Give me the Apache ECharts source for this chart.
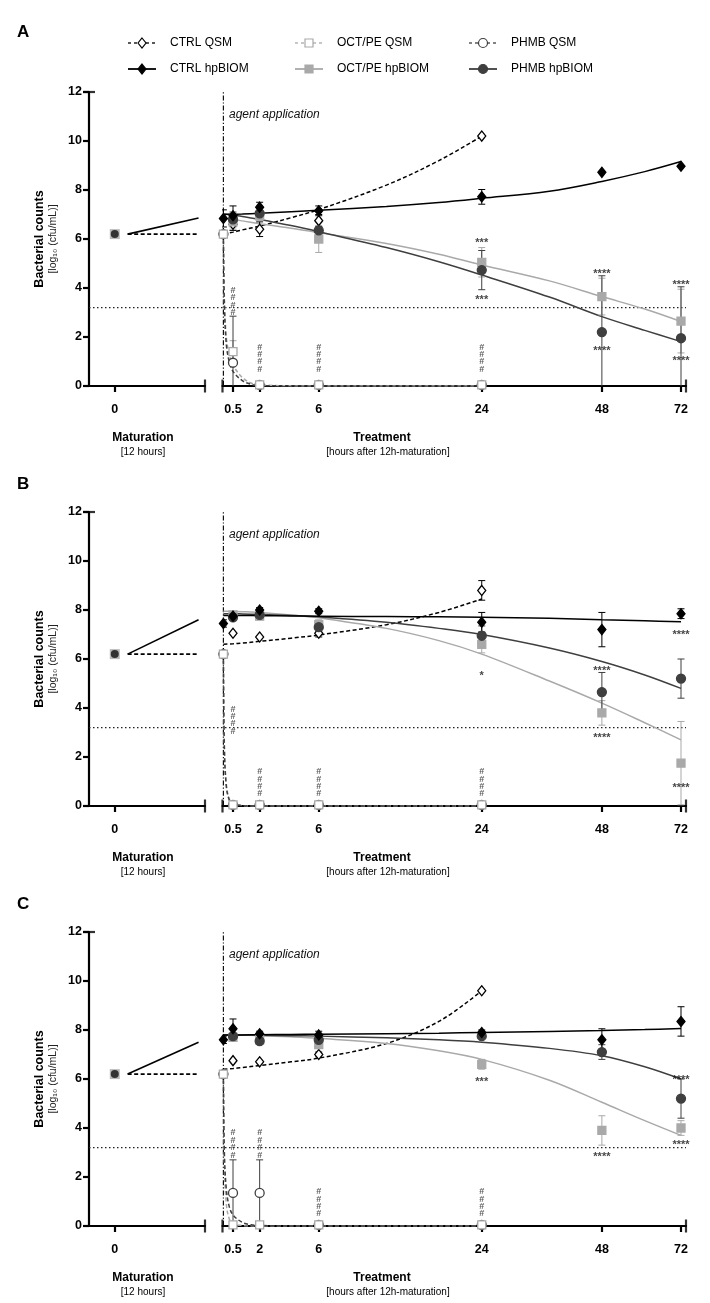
<!DOCTYPE html>
<html><head><meta charset="utf-8">
<script src="https://cdn.jsdelivr.net/npm/echarts@6/dist/echarts.min.js"></script>
<style>html,body{margin:0;padding:0;background:#fff}#c{width:710px;height:1303px}</style>
</head><body><div id="c"></div><script>
// ---------------- DATA ----------------
const hours = [0, 0.5, 2, 6, 24, 48, 72];
const xTickHours = [0.5, 2, 6, 24, 48, 72];
const yTicks = [0, 2, 4, 6, 8, 10, 12];
const detectionLimit = 3.2;
const maturationValue = 6.2;
const curveHours = [0, 0.5, 1, 2, 4, 6, 12, 18, 24, 36, 48, 60, 72];
const dropHours = [0, 0.05, 0.15, 0.3, 0.5, 1, 1.5, 2, 6, 24];
const panelLabels = ['A', 'B', 'C'];
const seriesNames = ['CTRL QSM', 'OCT/PE QSM', 'PHMB QSM', 'CTRL hpBIOM', 'OCT/PE hpBIOM', 'PHMB hpBIOM'];

// Panel A
const A_ctrlQsm = [6.2, 6.6, 6.4, 6.75, 10.2, null, null];
const A_ctrlQsmErr = [0, 0.25, 0.3, 0.25, 0, 0, 0];
const A_ctrlHp = [6.84, 6.95, 7.3, 7.15, 7.72, 8.72, 8.97];
const A_ctrlHpErr = [0.35, 0.4, 0.2, 0.2, 0.3, 0, 0];
const A_octQsm = [6.2, 1.4, 0.05, 0.05, 0.05, null, null];
const A_octQsmErr = [0, 0.45, 0, 0, 0, 0, 0];
const A_octHp = [null, 6.7, 6.95, 6.0, 5.05, 3.65, 2.65];
const A_octHpErr = [0, 0.3, 0.2, 0.55, 0.6, 0.75, 1.3];
const A_phmbQsm = [6.2, 0.95, 0.05, 0.05, 0.05, null, null];
const A_phmbQsmErr = [0, 1.9, 0, 0, 0, 0, 0];
const A_phmbHp = [null, 6.8, 7.05, 6.35, 4.73, 2.2, 1.95];
const A_phmbHpErr = [0, 0.3, 0.2, 0.4, 0.8, 2.3, 2.1];
const A_ctrlQsmFit = [6.2, 6.28, 6.37, 6.53, 6.87, 7.2, 8.2, 9.2, 10.2, null, null, null, null];
const A_ctrlHpFit = [7.0, 7.01, 7.02, 7.05, 7.11, 7.17, 7.33, 7.49, 7.66, 7.95, 8.35, 8.75, 9.16];
const A_octHpFit = [6.85, 6.8, 6.74, 6.62, 6.44, 6.26, 5.82, 5.38, 4.94, 4.29, 3.65, 3.14, 2.63];
const A_phmbHpFit = [7.02, 6.98, 6.92, 6.8, 6.55, 6.3, 5.65, 5.07, 4.53, 3.63, 2.83, 2.27, 1.81];
const A_octQsmFit = [6.2, 3.6, 2.0, 1.3, 0.85, 0.35, 0.12, 0.04, 0, 0];
const A_phmbQsmFit = [6.2, 3.3, 1.7, 1.0, 0.6, 0.22, 0.07, 0.02, 0, 0];
const A_matHpEnd = 6.86;
const A_hashes = [[0.5, 3.45], [2, 1.13], [6, 1.13], [24, 1.13]];
const A_stars = [[24, 5.93, '***'], [24, 3.6, '***'], [48, 4.65, '****'], [48, 1.5, '****'], [72, 4.2, '****'], [72, 1.1, '****']];

// Panel B
const B_ctrlQsm = [6.2, 7.05, 6.9, 7.05, 8.8, null, null];
const B_ctrlQsmErr = [0, 0, 0, 0.15, 0.4, 0, 0];
const B_ctrlHp = [7.45, 7.75, 8.0, 7.95, 7.5, 7.2, 7.85];
const B_ctrlHpErr = [0.15, 0.1, 0.1, 0.1, 0.4, 0.7, 0.2];
const B_octQsm = [6.2, 0.05, 0.05, 0.05, 0.05, null, null];
const B_octQsmErr = [0, 0, 0, 0, 0, 0, 0];
const B_octHp = [null, 7.8, 7.75, 7.4, 6.6, 3.8, 1.75];
const B_octHpErr = [0, 0.1, 0.15, 0.2, 0.35, 0.5, 1.7];
const B_phmbQsm = [6.2, 0.05, 0.05, 0.05, 0.05, null, null];
const B_phmbQsmErr = [0, 0, 0, 0, 0, 0, 0];
const B_phmbHp = [null, 7.7, 7.8, 7.3, 6.95, 4.65, 5.2];
const B_phmbHpErr = [0, 0.1, 0.1, 0.2, 0.4, 0.8, 0.8];
const B_ctrlQsmFit = [6.6, 6.62, 6.65, 6.72, 6.85, 6.98, 7.4, 7.9, 8.45, null, null, null, null];
const B_ctrlHpFit = [7.78, 7.78, 7.78, 7.77, 7.76, 7.75, 7.73, 7.72, 7.7, 7.66, 7.6, 7.56, 7.52];
const B_octHpFit = [7.95, 7.94, 7.93, 7.9, 7.8, 7.68, 7.25, 6.75, 6.2, 5.1, 4.2, 3.4, 2.7];
const B_phmbHpFit = [7.85, 7.85, 7.84, 7.82, 7.78, 7.72, 7.5, 7.25, 7.0, 6.45, 5.9, 5.35, 4.8];
const B_octQsmFit = [6.2, 2.5, 0.9, 0.3, 0.1, 0.02, 0, 0, 0, 0];
const B_phmbQsmFit = [6.2, 2.3, 0.8, 0.25, 0.08, 0.02, 0, 0, 0, 0];
const B_matHpEnd = 7.6;
const B_hashes = [[0.5, 3.5], [2, 0.95], [6, 0.95], [24, 0.95]];
const B_stars = [[24, 5.4, '*'], [48, 5.6, '****'], [48, 2.85, '****'], [72, 7.05, '****'], [72, 0.8, '****']];

// Panel C
const C_ctrlQsm = [6.2, 6.75, 6.7, 7.0, 9.6, null, null];
const C_ctrlQsmErr = [0, 0, 0, 0.1, 0, 0, 0];
const C_ctrlHp = [7.6, 8.05, 7.85, 7.8, 7.9, 7.6, 8.35];
const C_ctrlHpErr = [0.15, 0.4, 0.1, 0.15, 0.1, 0.45, 0.6];
const C_octQsm = [6.2, 0.05, 0.05, 0.05, 0.05, null, null];
const C_octQsmErr = [0, 0, 0, 0, 0, 0, 0];
const C_octHp = [null, 7.7, 7.6, 7.4, 6.6, 3.9, 4.0];
const C_octHpErr = [0, 0.1, 0.1, 0.15, 0.2, 0.6, 0.3];
const C_phmbQsm = [6.2, 1.35, 1.35, 0.05, 0.05, null, null];
const C_phmbQsmErr = [0, 1.35, 1.35, 0, 0, 0, 0];
const C_phmbHp = [null, 7.75, 7.55, 7.6, 7.75, 7.1, 5.2];
const C_phmbHpErr = [0, 0.1, 0.1, 0.1, 0.1, 0.3, 0.8];
const C_ctrlQsmFit = [6.4, 6.43, 6.47, 6.55, 6.7, 6.85, 7.45, 8.35, 9.6, null, null, null, null];
const C_ctrlHpFit = [7.8, 7.8, 7.8, 7.81, 7.82, 7.83, 7.85, 7.87, 7.9, 7.94, 7.98, 8.02, 8.06];
const C_octHpFit = [7.8, 7.8, 7.79, 7.77, 7.72, 7.66, 7.45, 7.15, 6.8, 5.95, 5.05, 4.3, 3.7];
const C_phmbHpFit = [7.8, 7.8, 7.8, 7.79, 7.77, 7.75, 7.68, 7.6, 7.5, 7.25, 6.95, 6.5, 6.0];
const C_octQsmFit = [6.2, 2.5, 0.9, 0.3, 0.1, 0.02, 0, 0, 0, 0];
const C_phmbQsmFit = [6.2, 3.0, 1.5, 0.8, 0.45, 0.15, 0.05, 0.02, 0, 0];
const C_matHpEnd = 7.5;
const C_hashes = [[0.5, 3.35], [2, 3.35], [6, 0.95], [24, 0.95]];
const C_stars = [[24, 5.95, '***'], [48, 2.9, '****'], [72, 6.05, '****'], [72, 3.4, '****']];

// ---------------- STYLE / LAYOUT ----------------
const FONT = 'Liberation Sans, Arial, Helvetica, sans-serif';
const COL = { ctrl: '#000000', oct: '#a9a9a9', phmb: '#3f3f3f' };
const PANEL_DY = 420;
const PLOT_TOP = 92, PLOT_H = 294, YAX_X = 89;
const MAT_RIGHT = 205, TRT_LEFT = 222.5, TRT_RIGHT = 686;
const PX05 = 233, PX72 = 681;
const tx = h => Math.log(h + 12);
const kx = (PX72 - PX05) / (tx(72) - tx(0.5));
const trtMin = tx(0.5) - (PX05 - TRT_LEFT) / kx;
const trtMax = tx(72) + (TRT_RIGHT - PX72) / kx;
const MAT_MIN = -1, MAT_MAX = 3.5;
const labelTop = [24, 476, 896];

const panels = [
  { ctrlQsm: A_ctrlQsm, ctrlQsmErr: A_ctrlQsmErr, ctrlHp: A_ctrlHp, ctrlHpErr: A_ctrlHpErr, octQsm: A_octQsm, octQsmErr: A_octQsmErr, octHp: A_octHp, octHpErr: A_octHpErr, phmbQsm: A_phmbQsm, phmbQsmErr: A_phmbQsmErr, phmbHp: A_phmbHp, phmbHpErr: A_phmbHpErr,
    ctrlQsmFit: A_ctrlQsmFit, ctrlHpFit: A_ctrlHpFit, octHpFit: A_octHpFit, phmbHpFit: A_phmbHpFit, octQsmFit: A_octQsmFit, phmbQsmFit: A_phmbQsmFit, matHpEnd: A_matHpEnd, hashes: A_hashes, stars: A_stars },
  { ctrlQsm: B_ctrlQsm, ctrlQsmErr: B_ctrlQsmErr, ctrlHp: B_ctrlHp, ctrlHpErr: B_ctrlHpErr, octQsm: B_octQsm, octQsmErr: B_octQsmErr, octHp: B_octHp, octHpErr: B_octHpErr, phmbQsm: B_phmbQsm, phmbQsmErr: B_phmbQsmErr, phmbHp: B_phmbHp, phmbHpErr: B_phmbHpErr,
    ctrlQsmFit: B_ctrlQsmFit, ctrlHpFit: B_ctrlHpFit, octHpFit: B_octHpFit, phmbHpFit: B_phmbHpFit, octQsmFit: B_octQsmFit, phmbQsmFit: B_phmbQsmFit, matHpEnd: B_matHpEnd, hashes: B_hashes, stars: B_stars },
  { ctrlQsm: C_ctrlQsm, ctrlQsmErr: C_ctrlQsmErr, ctrlHp: C_ctrlHp, ctrlHpErr: C_ctrlHpErr, octQsm: C_octQsm, octQsmErr: C_octQsmErr, octHp: C_octHp, octHpErr: C_octHpErr, phmbQsm: C_phmbQsm, phmbQsmErr: C_phmbQsmErr, phmbHp: C_phmbHp, phmbHpErr: C_phmbHpErr,
    ctrlQsmFit: C_ctrlQsmFit, ctrlHpFit: C_ctrlHpFit, octHpFit: C_octHpFit, phmbHpFit: C_phmbHpFit, octQsmFit: C_octQsmFit, phmbQsmFit: C_phmbQsmFit, matHpEnd: C_matHpEnd, hashes: C_hashes, stars: C_stars }
];

const MARK = {
  ctrlQsm: { symbol: 'diamond', size: [8, 10], fill: '#fff', stroke: COL.ctrl },
  ctrlHp: { symbol: 'diamond', size: [8, 10], fill: COL.ctrl, stroke: COL.ctrl },
  octQsm: { symbol: 'rect', size: 8, fill: '#fff', stroke: COL.oct },
  octHp: { symbol: 'rect', size: 8, fill: COL.oct, stroke: COL.oct },
  phmbQsm: { symbol: 'circle', size: 9, fill: '#fff', stroke: COL.phmb },
  phmbHp: { symbol: 'circle', size: 9, fill: COL.phmb, stroke: COL.phmb }
};

const grids = [], xAxes = [], yAxes = [], series = [], graphics = [];
const axisLineStyle = { color: '#000', width: 2.2 };

function pts(xs, vals) {
  const out = [];
  xs.forEach((h, i) => { if (vals[i] != null) out.push([tx(h), vals[i]]); });
  return out;
}
function errSeries(ax, vals, errs, color) {
  const data = [];
  hours.forEach((h, i) => { if (vals[i] != null && errs[i]) data.push([tx(h), vals[i] - errs[i], vals[i] + errs[i]]); });
  return { type: 'custom', xAxisIndex: ax, yAxisIndex: ax, data, clip: true, silent: true, z: 3,
    encode: { x: 0, y: [1, 2] },
    renderItem(params, api) {
      const x = api.value(0);
      const lo = api.coord([x, api.value(1)]);
      const hi = api.coord([x, api.value(2)]);
      const w = 3.5, st = { stroke: color, lineWidth: 1 };
      return { type: 'group', children: [
        { type: 'line', shape: { x1: lo[0], y1: lo[1], x2: hi[0], y2: hi[1] }, style: st },
        { type: 'line', shape: { x1: lo[0] - w, y1: lo[1], x2: lo[0] + w, y2: lo[1] }, style: st },
        { type: 'line', shape: { x1: hi[0] - w, y1: hi[1], x2: hi[0] + w, y2: hi[1] }, style: st }
      ] };
    } };
}
function fitSeries(ax, xs, vals, color, dashed, z) {
  return { type: 'line', xAxisIndex: ax, yAxisIndex: ax, data: pts(xs, vals), smooth: 0.35, showSymbol: false, silent: true, clip: true,
    lineStyle: { color, width: 1.5, type: dashed ? [4, 2.5] : 'solid' }, z: z || 2 };
}
function markSeries(ax, vals, key, z) {
  const m = MARK[key];
  return { type: 'scatter', xAxisIndex: ax, yAxisIndex: ax, data: pts(hours, vals), symbol: m.symbol, symbolSize: m.size, silent: true,
    itemStyle: { color: m.fill, borderColor: m.stroke, borderWidth: 1.3, opacity: 1 }, z: z || 4 };
}
function barMark(ax, x, y, size) {
  return { type: 'scatter', xAxisIndex: ax, yAxisIndex: ax, data: [[x, y]], symbol: 'rect', symbolSize: size, silent: true, clip: false,
    itemStyle: { color: '#000' }, z: 6 };
}

panels.forEach((P, p) => {
  const dy = p * PANEL_DY;
  const top = PLOT_TOP + dy;
  const gm = 3 * p, gt = 3 * p + 1, go = 3 * p + 2;
  grids.push({ left: YAX_X, top, width: MAT_RIGHT - YAX_X, height: PLOT_H });
  grids.push({ left: TRT_LEFT, top, width: TRT_RIGHT - TRT_LEFT, height: PLOT_H });
  grids.push({ left: YAX_X, top, width: TRT_RIGHT - YAX_X, height: PLOT_H });
  xAxes.push({ gridIndex: gm, type: 'value', min: MAT_MIN, max: MAT_MAX, splitLine: { show: false },
    axisLine: { onZero: false, lineStyle: axisLineStyle },
    axisTick: { customValues: [0], length: 6, lineStyle: { width: 2.2, color: '#000' } },
    axisLabel: { customValues: [0], margin: 17, fontFamily: FONT, fontWeight: 'bold', fontSize: 12.5, color: '#000' } });
  xAxes.push({ gridIndex: gt, type: 'value', min: trtMin, max: trtMax, splitLine: { show: false },
    axisLine: { onZero: false, lineStyle: axisLineStyle },
    axisTick: { customValues: xTickHours.map(tx), length: 6, lineStyle: { width: 2.2, color: '#000' } },
    axisLabel: { customValues: xTickHours.map(tx), margin: 17, fontFamily: FONT, fontWeight: 'bold', fontSize: 12.5, color: '#000',
      formatter: v => { const h = xTickHours.find(t => Math.abs(tx(t) - v) < 1e-6); return h == null ? '' : String(h); } } });
  xAxes.push({ gridIndex: go, type: 'value', min: 0, max: 1, show: false });
  yAxes.push({ gridIndex: gm, type: 'value', min: 0, max: 12, interval: 2, splitLine: { show: false },
    axisLine: { onZero: false, lineStyle: axisLineStyle },
    axisTick: { length: 6, lineStyle: { width: 2.2, color: '#000' } },
    axisLabel: { margin: 7, fontFamily: FONT, fontWeight: 'bold', fontSize: 12.5, color: '#000' } });
  yAxes.push({ gridIndex: gt, type: 'value', min: 0, max: 12, show: false });
  yAxes.push({ gridIndex: go, type: 'value', min: 0, max: 12, show: false });

  series.push({ type: 'line', xAxisIndex: go, yAxisIndex: go, data: [[0, detectionLimit], [1, detectionLimit]], showSymbol: false, silent: true,
    lineStyle: { color: '#222', width: 1.2, type: [1.5, 2.5] }, z: 1 });
  series.push({ type: 'line', xAxisIndex: gt, yAxisIndex: gt, data: [[tx(0), 0], [tx(0), 12]], showSymbol: false, silent: true, clip: false,
    lineStyle: { color: '#111', width: 1.2, type: [5, 2, 1.2, 2] }, z: 1 });

  series.push({ type: 'line', xAxisIndex: gm, yAxisIndex: gm, data: [[0.5, maturationValue], [3.25, P.matHpEnd]], showSymbol: false, silent: true,
    lineStyle: { color: '#000', width: 1.6 }, z: 2 });
  series.push({ type: 'line', xAxisIndex: gm, yAxisIndex: gm, data: [[0.5, maturationValue], [3.25, maturationValue]], showSymbol: false, silent: true,
    lineStyle: { color: '#000', width: 1.6, type: [4, 2.5] }, z: 2 });
  series.push({ type: 'scatter', xAxisIndex: gm, yAxisIndex: gm, data: [[0, maturationValue]], symbol: 'rect', symbolSize: 10, silent: true,
    itemStyle: { color: COL.oct }, z: 4 });
  series.push({ type: 'scatter', xAxisIndex: gm, yAxisIndex: gm, data: [[0, maturationValue]], symbol: 'circle', symbolSize: 8, silent: true,
    itemStyle: { color: '#111' }, z: 5 });

  series.push(fitSeries(gt, dropHours, P.octQsmFit, COL.oct, true, 2));
  series.push(fitSeries(gt, dropHours, P.phmbQsmFit, COL.phmb, true, 2));
  series.push(fitSeries(gt, curveHours, P.ctrlQsmFit, COL.ctrl, true, 2));
  series.push(fitSeries(gt, curveHours, P.octHpFit, COL.oct, false, 2));
  series.push(fitSeries(gt, curveHours, P.phmbHpFit, COL.phmb, false, 2));
  series.push(fitSeries(gt, curveHours, P.ctrlHpFit, COL.ctrl, false, 2));

  series.push(errSeries(gt, P.octQsm, P.octQsmErr, COL.oct));
  series.push(errSeries(gt, P.phmbQsm, P.phmbQsmErr, COL.phmb));
  series.push(errSeries(gt, P.ctrlQsm, P.ctrlQsmErr, COL.ctrl));
  series.push(errSeries(gt, P.octHp, P.octHpErr, COL.oct));
  series.push(errSeries(gt, P.phmbHp, P.phmbHpErr, COL.phmb));
  series.push(errSeries(gt, P.ctrlHp, P.ctrlHpErr, COL.ctrl));

  series.push(markSeries(gt, P.ctrlQsm, 'ctrlQsm', 4));
  series.push(markSeries(gt, P.phmbQsm, 'phmbQsm', 4));
  series.push(markSeries(gt, P.octQsm, 'octQsm', 4));
  series.push(markSeries(gt, P.octHp, 'octHp', 5));
  series.push(markSeries(gt, P.phmbHp, 'phmbHp', 5));
  series.push(markSeries(gt, P.ctrlHp, 'ctrlHp', 5));

  series.push({ type: 'scatter', xAxisIndex: gt, yAxisIndex: gt, data: P.hashes.map(d => [tx(d[0]), d[1]]), symbolSize: 0, silent: true, z: 6,
    label: { show: true, position: 'inside', formatter: '#\n#\n#\n#', fontFamily: FONT, fontSize: 9, lineHeight: 7.4, fontWeight: 'bold', color: '#333' } });
  series.push({ type: 'scatter', xAxisIndex: gt, yAxisIndex: gt, data: P.stars.map(d => [tx(d[0]), d[1], d[2]]), symbolSize: 0, silent: true, z: 6,
    label: { show: true, position: 'inside', offset: [0, 2], formatter: q => q.value[2], fontFamily: FONT, fontSize: 11, fontWeight: 'bold', color: '#111' } });

  series.push(barMark(gm, MAT_MAX, 0, [2.2, 13]));
  series.push(barMark(gt, trtMin, 0, [2.2, 13]));
  series.push(barMark(gt, trtMax, 0, [2.2, 13]));
  series.push(barMark(gm, MAT_MIN, 12, [12, 2.2]));

  graphics.push({ type: 'text', left: 17, top: labelTop[p], style: { text: panelLabels[p], font: 'bold 17px ' + FONT, fill: '#000' } });
  graphics.push({ type: 'text', x: 229, y: top + 23, style: { text: 'agent application', font: 'italic 12px ' + FONT, fill: '#111', textVerticalAlign: 'middle' } });
  graphics.push({ type: 'text', x: 40, y: top + PLOT_H / 2, rotation: Math.PI / 2,
    style: { text: 'Bacterial counts', font: 'bold 12.5px ' + FONT, fill: '#000', textAlign: 'center', textVerticalAlign: 'middle' } });
  graphics.push({ type: 'text', x: 53, y: top + PLOT_H / 2, rotation: Math.PI / 2,
    style: { text: '[log\u2081\u2080 (cfu/mL)]', font: '10.5px ' + FONT, fill: '#222', textAlign: 'center', textVerticalAlign: 'middle' } });
  const base = top + PLOT_H;
  graphics.push({ type: 'text', x: 143, y: base + 52, style: { text: 'Maturation', font: 'bold 12px ' + FONT, fill: '#000', textAlign: 'center', textVerticalAlign: 'middle' } });
  graphics.push({ type: 'text', x: 143, y: base + 66, style: { text: '[12 hours]', font: '10px ' + FONT, fill: '#000', textAlign: 'center', textVerticalAlign: 'middle' } });
  graphics.push({ type: 'text', x: 382, y: base + 52, style: { text: 'Treatment', font: 'bold 12px ' + FONT, fill: '#000', textAlign: 'center', textVerticalAlign: 'middle' } });
  graphics.push({ type: 'text', x: 388, y: base + 66, style: { text: '[hours after 12h-maturation]', font: '10px ' + FONT, fill: '#000', textAlign: 'center', textVerticalAlign: 'middle' } });
});

const legCols = [142, 309, 483], legRows = [43, 69];
const legKeys = [['ctrlQsm', 'octQsm', 'phmbQsm'], ['ctrlHp', 'octHp', 'phmbHp']];
const legColor = [COL.ctrl, COL.oct, COL.phmb];
legRows.forEach((ly, r) => {
  legCols.forEach((cx, c) => {
    const key = legKeys[r][c];
    const m = MARK[key];
    const col = legColor[c];
    graphics.push({ type: 'line', shape: { x1: cx - 14, y1: ly, x2: cx + 14, y2: ly },
      style: { stroke: col, lineWidth: r === 0 ? 1.3 : 1.8, lineDash: r === 0 ? [3, 3] : null } });
    let shape;
    if (m.symbol === 'diamond') shape = { type: 'polygon', shape: { points: [[cx, ly - 5], [cx + 4, ly], [cx, ly + 5], [cx - 4, ly]] } };
    else if (m.symbol === 'rect') shape = { type: 'rect', shape: { x: cx - 4, y: ly - 4, width: 8, height: 8 } };
    else shape = { type: 'circle', shape: { cx, cy: ly, r: 4.5 } };
    shape.style = { fill: m.fill, stroke: m.stroke, lineWidth: 1.2 };
    graphics.push(shape);
    graphics.push({ type: 'text', x: cx + 28, y: ly, style: { text: seriesNames[r * 3 + c], font: '12px ' + FONT, fill: '#000', textVerticalAlign: 'middle' } });
  });
});

const chart = echarts.init(document.getElementById('c'), null, { renderer: 'canvas' });
chart.setOption({ animation: false, backgroundColor: '#fff', grid: grids, xAxis: xAxes, yAxis: yAxes, series, graphic: graphics });
</script></body></html>
